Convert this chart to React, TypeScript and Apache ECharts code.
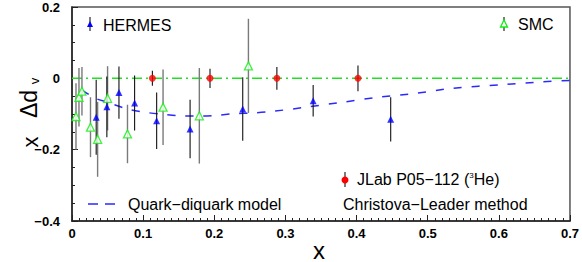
import React, { useEffect, useRef } from "react";
import * as echarts from "echarts";

const hermesX = [0.034, 0.049, 0.066, 0.088, 0.119, 0.166, 0.24, 0.339, 0.448];
const hermesY = [-0.109, -0.08, -0.04, -0.069, -0.119, -0.142, -0.086, -0.063, -0.115];
const hermesErr = [0.105, 0.085, 0.073, 0.077, 0.079, 0.082, 0.089, 0.044, 0.062];

const smcX = [0.0056, 0.0098, 0.014, 0.026, 0.036, 0.05, 0.078, 0.128, 0.179, 0.248];
const smcY = [-0.107, -0.053, -0.036, -0.137, -0.171, -0.056, -0.156, -0.081, -0.105, 0.035];
const smcErr = [0.093, 0.082, 0.068, 0.084, 0.105, 0.09, 0.082, 0.106, 0.134, 0.132];

const jlabX = [0.113, 0.194, 0.288, 0.402];
const jlabY = [0, 0, 0, 0];
const jlabErr = [0.021, 0.027, 0.032, 0.036];

const modelX = [0.014, 0.033, 0.048, 0.078, 0.102, 0.128, 0.154, 0.179, 0.203, 0.228, 0.254, 0.28, 0.329, 0.38, 0.431, 0.483, 0.534, 0.609, 0.66, 0.7];
const modelY = [-0.033, -0.056, -0.066, -0.086, -0.095, -0.101, -0.105, -0.106, -0.104, -0.099, -0.097, -0.093, -0.081, -0.067, -0.053, -0.042, -0.028, -0.017, -0.01, -0.006];

const zeroX = [0, 0.7];
const zeroY = [0, 0];

const xTicks = [0, 0.1, 0.2, 0.3, 0.4, 0.5, 0.6, 0.7];
const yTicks = [-0.4, -0.2, 0, 0.2];

const FONT = "Liberation Sans, Arial, Helvetica, sans-serif";

function errData(xs: number[], ys: number[], es: number[]) {
  return xs.map((x, i) => [x, ys[i] - es[i], ys[i] + es[i]]);
}

function errSeries(data: number[][], color: string, width: number, z: number) {
  return {
    type: "custom",
    z,
    renderItem: (params: any, api: any) => {
      const x = api.value(0);
      const p1 = api.coord([x, api.value(1)]);
      const p2 = api.coord([x, api.value(2)]);
      return {
        type: "line",
        shape: { x1: p1[0], y1: p1[1], x2: p2[0], y2: p2[1] },
        style: { stroke: color, lineWidth: width },
      };
    },
    encode: { x: 0, y: [1, 2] },
    data,
  };
}

const fmt = (v: number) => {
  if (Math.abs(v) < 1e-9) return "0";
  return (v < 0 ? "\u2212" : "") + Math.abs(v).toFixed(1);
};

export default function App() {
  const ref = useRef<HTMLDivElement>(null);
  useEffect(() => {
    if (!ref.current) return;
    const chart = echarts.init(ref.current, null, { renderer: "svg" });
    const option: any = {
      animation: false,
      backgroundColor: "#fff",
      grid: {
        left: 72,
        right: 10,
        top: 7,
        bottom: 41,
        show: true,
        borderColor: "#555",
        borderWidth: 1.5,
        backgroundColor: "transparent",
      },
      xAxis: {
        type: "value",
        min: 0,
        max: 0.7,
        interval: 0.1,
        axisLine: { show: true, onZero: false, lineStyle: { color: "#222", width: 1.5 } },
        axisTick: { show: true, inside: true, length: 6, lineStyle: { color: "#222" } },
        minorTick: { show: true, splitNumber: 10, length: 3, lineStyle: { color: "#222" } },
        splitLine: { show: false },
        axisLabel: {
          show: true,
          margin: 6,
          fontFamily: FONT,
          fontWeight: "bold",
          fontSize: 13,
          color: "#000",
          formatter: (v: number) => (xTicks.some((t) => Math.abs(t - v) < 1e-6) ? fmt(v) : ""),
        },
      },
      yAxis: {
        type: "value",
        min: -0.4,
        max: 0.2,
        interval: 0.2,
        axisLine: { show: true, onZero: false, lineStyle: { color: "#222", width: 1.5 } },
        axisTick: { show: true, inside: true, length: 6, lineStyle: { color: "#222" } },
        minorTick: { show: true, splitNumber: 4, length: 3, lineStyle: { color: "#222" } },
        splitLine: { show: false },
        axisLabel: {
          show: true,
          margin: 12,
          fontFamily: FONT,
          fontWeight: "bold",
          fontSize: 13,
          color: "#000",
          formatter: (v: number) => (yTicks.some((t) => Math.abs(t - v) < 1e-6) ? fmt(v) : ""),
        },
      },
      series: [
        {
          type: "line",
          data: zeroX.map((x, i) => [x, zeroY[i]]),
          symbol: "none",
          lineStyle: { color: "#22e022", width: 1.5, type: [10, 4, 2, 4] },
          z: 1,
        },
        {
          type: "line",
          data: modelX.map((x, i) => [x, modelY[i]]),
          symbol: "none",
          smooth: 0.3,
          lineStyle: { color: "#2a2aff", width: 1.5, type: [8, 10] },
          z: 1,
        },
        errSeries(errData(smcX, smcY, smcErr), "#7a7a7a", 1.4, 2),
        errSeries(errData(hermesX, hermesY, hermesErr), "#111", 1.1, 2),
        errSeries(errData(jlabX, jlabY, jlabErr), "#111", 1.1, 2),
        {
          type: "scatter",
          data: smcX.map((x, i) => [x, smcY[i]]),
          symbol: "triangle",
          symbolSize: 8,
          itemStyle: { color: "#fff", borderColor: "#11ee11", borderWidth: 1.3 },
          z: 3,
        },
        {
          type: "scatter",
          data: hermesX.map((x, i) => [x, hermesY[i]]),
          symbol: "triangle",
          symbolSize: 7,
          itemStyle: { color: "#0000ff" },
          z: 4,
        },
        {
          type: "scatter",
          data: jlabX.map((x, i) => [x, jlabY[i]]),
          symbol: "circle",
          symbolSize: 7,
          itemStyle: { color: "#ff0000" },
          z: 4,
        },
      ],
      graphic: [
        // y axis name
        {
          type: "text",
          x: 30,
          y: 142,
          rotation: Math.PI / 2,
          style: { text: "x", fontSize: 22, fontFamily: FONT, fill: "#000", align: "center", verticalAlign: "middle" },
        },
        {
          type: "text",
          x: 29,
          y: 104,
          rotation: Math.PI / 2,
          style: { text: "\u0394d", fontSize: 23, fontFamily: FONT, fill: "#000", align: "center", verticalAlign: "middle" },
        },
        {
          type: "text",
          x: 34,
          y: 81,
          rotation: Math.PI / 2,
          style: { text: "v", fontSize: 13, fontFamily: FONT, fill: "#000", align: "center", verticalAlign: "middle" },
        },
        // x axis name
        {
          type: "text",
          x: 319,
          y: 250,
          style: { text: "x", fontSize: 24, fontFamily: FONT, fill: "#000", align: "center", verticalAlign: "middle" },
        },
        // HERMES legend
        { type: "line", shape: { x1: 90, y1: 17, x2: 90, y2: 31 }, style: { stroke: "#111", lineWidth: 1.1 } },
        { type: "polygon", shape: { points: [[90, 21], [93, 27], [87, 27]] }, style: { fill: "#0000ff" } },
        {
          type: "text",
          x: 103,
          y: 25,
          style: { text: "HERMES", fontSize: 16, fontFamily: FONT, fill: "#000", verticalAlign: "middle" },
        },
        // SMC legend
        { type: "line", shape: { x1: 504, y1: 17, x2: 504, y2: 31 }, style: { stroke: "#111", lineWidth: 1.1 } },
        {
          type: "polygon",
          shape: { points: [[504, 20], [507.5, 27], [500.5, 27]] },
          style: { fill: "#fff", stroke: "#11ee11", lineWidth: 1.3 },
        },
        {
          type: "text",
          x: 518,
          y: 24,
          style: { text: "SMC", fontSize: 16, fontFamily: FONT, fill: "#000", verticalAlign: "middle" },
        },
        // JLab legend
        { type: "line", shape: { x1: 345, y1: 172, x2: 345, y2: 187 }, style: { stroke: "#111", lineWidth: 1.1 } },
        { type: "circle", shape: { cx: 345, cy: 180, r: 3.5 }, style: { fill: "#ff0000" } },
        {
          type: "text",
          x: 357,
          y: 179,
          style: {
            text: "{a|JLab P05\u2212112 (}{s|3}{a|He)}",
            verticalAlign: "middle",
            rich: {
              a: { fontSize: 16, fontFamily: FONT, fill: "#000" },
              s: { fontSize: 8, fontFamily: FONT, fill: "#000", padding: [0, 0, 8, 0] },
            },
          },
        },
        // Quark-diquark legend
        {
          type: "line",
          shape: { x1: 88, y1: 204, x2: 115, y2: 204 },
          style: { stroke: "#2a2aff", lineWidth: 1.5, lineDash: [10, 7] },
        },
        {
          type: "text",
          x: 128,
          y: 204,
          style: { text: "Quark\u2212diquark model", fontSize: 16, fontFamily: FONT, fill: "#000", verticalAlign: "middle" },
        },
        {
          type: "text",
          x: 343,
          y: 204,
          style: { text: "Christova\u2212Leader method", fontSize: 16, fontFamily: FONT, fill: "#000", verticalAlign: "middle" },
        },
      ],
    };
    chart.setOption(option);
    return () => chart.dispose();
  }, []);
  return (
    <div
      ref={ref}
      style={{ position: "fixed", left: 0, top: 0, width: 582, height: 262, background: "#fff" }}
    />
  );
}
